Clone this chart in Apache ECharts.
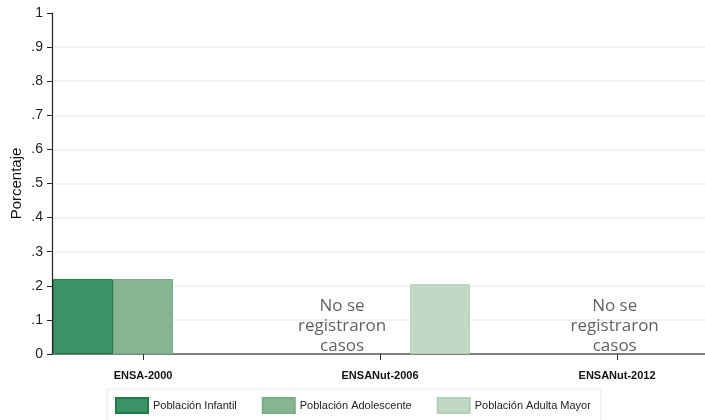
<!DOCTYPE html>
<html>
<head>
<meta charset="utf-8">
<script src="https://cdn.jsdelivr.net/npm/echarts@6/dist/echarts.min.js"></script>
<style>html,body{margin:0;padding:0;background:#fff}#c{width:705px;height:420px}</style>
</head>
<body>
<div id="c"></div>
<script>
const categories = ['ENSA-2000', 'ENSANut-2006', 'ENSANut-2012'];
const seriesNames = ['Población Infantil', 'Población Adolescente', 'Población Adulta Mayor'];
const infantil = [0.22, null, null];
const adolescente = [0.22, null, null];
const adultaMayor = [null, 0.205, null];
const yTicks = [0, 0.1, 0.2, 0.3, 0.4, 0.5, 0.6, 0.7, 0.8, 0.9, 1];
const yTickLabels = ['0', '.1', '.2', '.3', '.4', '.5', '.6', '.7', '.8', '.9', '1'];
const noteText = 'No se\nregistraron\ncasos';
const noteX = [0.84, 1.99];
const noteY = [0.082, 0.082];

const colors = ['#3b9264', '#86b591', '#c1d9c4'];
const borders = ['#207a49', '#78ad86', '#b3d0b7'];
const values = [infantil, adolescente, adultaMayor];

const chart = echarts.init(document.getElementById('c'), null, {renderer: 'canvas'});
const barSeries = seriesNames.map((n, i) => ({
  name: n,
  type: 'bar',
  barWidth: 60,
  barGap: '0%',
  data: categories.map((c, j) => [j, values[i][j] == null ? '-' : values[i][j]]),
  itemStyle: {color: colors[i], borderColor: borders[i], borderWidth: 1},
  emphasis: {disabled: true}
}));

chart.setOption({
  animation: false,
  backgroundColor: '#fff',
  grid: {left: 52, right: 0, top: 13, bottom: 66, containLabel: false, outerBoundsMode: 'none'},
  legend: {
    data: seriesNames,
    left: 107, top: 389,
    padding: [8, 10, 8, 8],
    icon: 'rect',
    itemWidth: 32, itemHeight: 15, itemGap: 25,
    borderColor: '#e3ecee', borderWidth: 1,
    textStyle: {fontFamily: 'Liberation Sans', fontSize: 11, color: '#222'},
    selectedMode: false
  },
  xAxis: {
    type: 'value',
    min: -0.384, max: 2.371,
    splitLine: {show: false},
    axisLine: {show: true, onZero: false, lineStyle: {color: '#555', width: 1.5}},
    axisTick: {show: true, customValues: [0, 1, 2], length: 6, lineStyle: {color: '#333'}},
    axisLabel: {
      customValues: [0, 1, 2],
      formatter: v => categories[Math.round(v)],
      fontFamily: 'Liberation Sans', fontWeight: 'bold', fontSize: 11, color: '#111', margin: 16
    }
  },
  yAxis: {
    type: 'value',
    min: 0, max: 1, interval: 0.1,
    name: 'Porcentaje', nameLocation: 'middle', nameGap: 28, nameRotate: 90, nameMoveOverlap: false,
    nameTextStyle: {fontFamily: 'Liberation Sans', fontSize: 15, color: '#111'},
    axisLine: {show: true, onZero: false, lineStyle: {color: '#222', width: 1.2}},
    axisTick: {show: true, length: 5, lineStyle: {color: '#222'}},
    axisLabel: {
      formatter: v => { const k = yTicks.findIndex(t => Math.abs(t - v) < 1e-6); return k >= 0 ? yTickLabels[k] : ''; },
      fontFamily: 'Liberation Sans', fontSize: 14, color: '#222', margin: 9
    },
    splitLine: {show: true, showMinLine: false, showMaxLine: false, lineStyle: {color: '#e9f1f3', width: 1.5}}
  },
  series: barSeries.concat([{
    type: 'scatter',
    symbolSize: 1,
    itemStyle: {color: 'rgba(0,0,0,0)'},
    silent: true,
    data: noteX.map((x, i) => [x, noteY[i]]),
    label: {
      show: true, position: 'inside', formatter: noteText,
      fontFamily: 'Open Sans', fontSize: 17, lineHeight: 20, color: '#383838', align: 'center'
    }
  }])
});
</script>
</body>
</html>
